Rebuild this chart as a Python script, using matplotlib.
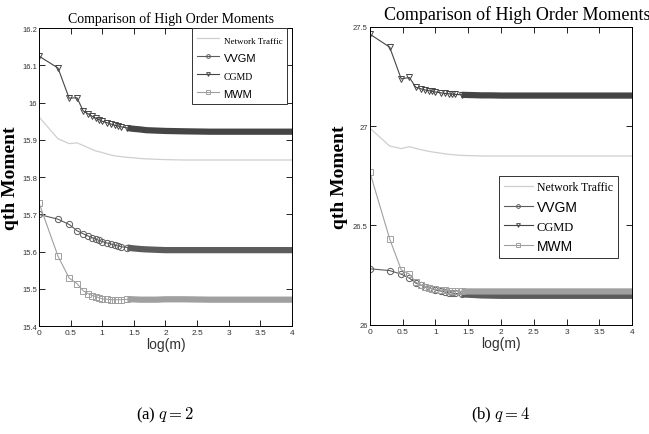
import numpy as np
import matplotlib
matplotlib.use('Agg')
import matplotlib.pyplot as plt

plt.rcParams['mathtext.fontset'] = 'cm'

# aggregation levels m (x axis is log10(m))
m_vals = [1, 2, 3, 4, 5, 6, 7, 8, 9, 10, 12, 14, 16, 18, 20, 25, 30, 40, 50, 70,
          100, 200, 500, 1000, 10000]

# q = 2
net_q2 = [15.962, 15.903, 15.890, 15.892, 15.885, 15.879, 15.874, 15.870, 15.868, 15.866,
          15.862, 15.859, 15.857, 15.856, 15.855, 15.853, 15.852, 15.850, 15.849, 15.848,
          15.847, 15.846, 15.846, 15.846, 15.846]
cgmd_q2 = [16.125, 16.093, 16.012, 16.013, 15.978, 15.970, 15.963, 15.958, 15.954, 15.950,
           15.946, 15.942, 15.939, 15.937, 15.935, 15.932, 15.930, 15.928, 15.926, 15.925,
           15.924, 15.923, 15.922, 15.922, 15.922]
vvgm_q2 = [15.700, 15.687, 15.673, 15.656, 15.648, 15.642, 15.637, 15.633, 15.630, 15.627,
           15.623, 15.620, 15.617, 15.615, 15.613, 15.611, 15.609, 15.607, 15.606, 15.605,
           15.604, 15.604, 15.604, 15.604, 15.604]
mwm_q2 = [15.731, 15.588, 15.529, 15.514, 15.495, 15.487, 15.482, 15.479, 15.476, 15.473,
          15.472, 15.471, 15.471, 15.471, 15.471, 15.472, 15.472, 15.471, 15.471, 15.471,
          15.472, 15.472, 15.471, 15.471, 15.471]

# q = 4
net_q4 = [26.990, 26.900, 26.887, 26.897, 26.888, 26.882, 26.877, 26.873, 26.870, 26.868,
          26.864, 26.861, 26.858, 26.857, 26.855, 26.853, 26.852, 26.851, 26.850, 26.850,
          26.850, 26.850, 26.850, 26.850, 26.850]
cgmd_q4 = [27.463, 27.398, 27.238, 27.245, 27.196, 27.188, 27.182, 27.178, 27.175, 27.172,
           27.168, 27.165, 27.163, 27.161, 27.160, 27.158, 27.157, 27.156, 27.155, 27.155,
           27.154, 27.154, 27.154, 27.154, 27.154]
vvgm_q4 = [26.282, 26.273, 26.255, 26.235, 26.210, 26.200, 26.190, 26.185, 26.180, 26.175,
           26.170, 26.165, 26.162, 26.160, 26.158, 26.155, 26.152, 26.150, 26.148, 26.147,
           26.146, 26.146, 26.146, 26.146, 26.146]
mwm_q4 = [26.767, 26.433, 26.277, 26.255, 26.215, 26.200, 26.192, 26.186, 26.181, 26.178,
          26.176, 26.174, 26.172, 26.171, 26.170, 26.169, 26.168, 26.168, 26.168, 26.168,
          26.168, 26.168, 26.168, 26.168, 26.168]

labels = ['Network Traffic', 'VVGM', 'CGMD', 'MWM']
colors = ['#cfcfcf', '#5c5c5c', '#454545', '#a0a0a0']
markers = [None, 'o', 'v', 's']

x = np.log10(m_vals)
SANS = ['Liberation Sans', 'DejaVu Sans']
SERIF = ['Liberation Serif', 'DejaVu Serif']

fig = plt.figure(figsize=(6.49, 4.35), dpi=100)


def panel(rect, series, ylim, yticks, ytl, tsize, title_x, ylab_x, leg_anchor,
          leg_fs, hlen, caption):
    ax = fig.add_axes(rect)
    tail = x >= 1.39
    head = np.where(x <= 1.4)[0].tolist()
    for y, lab, c, mk in zip(series, labels, colors, markers):
        y = np.asarray(y)
        if mk is None:
            ax.plot(x, y, color=c, lw=0.9, label=lab)
            continue
        ax.plot(x, y, color=c, lw=0.8, marker=mk, ms=4.5, mfc='none', mew=0.7,
                markevery=head, label=lab)
        # dense marker band at large m
        ax.plot(x[tail], y[tail], color=c, lw=4.5, solid_capstyle='butt')
    ax.set_xlim(0, 4)
    ax.set_ylim(*ylim)
    ax.set_xticks(np.arange(0, 4.01, 0.5))
    ax.set_xticklabels(['0', '0.5', '1', '1.5', '2', '2.5', '3', '3.5', '4'])
    ax.set_yticks(yticks)
    ax.set_yticklabels(ytl)
    ax.tick_params(direction='in', top=True, right=True, length=4, width=0.6,
                   labelsize=6, pad=2)
    ax.tick_params(axis='y', labelsize=5.5, pad=1.5)
    for t in ax.get_xticklabels() + ax.get_yticklabels():
        t.set_family(SANS)
        t.set_color('#333333')
    for s in ax.spines.values():
        s.set_linewidth(0.7)
    ax.text(title_x, 1.012, 'Comparison of High Order Moments', transform=ax.transAxes,
            ha='center', va='bottom', family=SERIF, fontsize=tsize)
    ax.set_ylabel('qth Moment', family=SERIF, fontweight='bold', fontsize=14)
    ax.yaxis.set_label_coords(ylab_x, 0.5)
    ax.set_xlabel('log(m)', family=SANS, fontsize=10, labelpad=1, color='#333333')
    leg = ax.legend(loc='upper right', bbox_to_anchor=leg_anchor, borderaxespad=0,
                    handlelength=hlen, handletextpad=0.3, labelspacing=0.45,
                    markerscale=0.6, fancybox=False, edgecolor='#333333',
                    framealpha=1, borderpad=0.35)
    leg.get_frame().set_linewidth(0.7)
    fams = [SERIF, SANS, SERIF, SANS]
    for t, fam, fs in zip(leg.get_texts(), fams, leg_fs):
        t.set_family(fam)
        t.set_fontsize(fs)
    cx = rect[0] + rect[2] / 2
    fig.text(cx, 0.035, caption, ha='center', va='baseline', family=SERIF, fontsize=12)
    return ax


panel([0.060, 0.248, 0.390, 0.685], [net_q2, vvgm_q2, cgmd_q2, mwm_q2],
      (15.4, 16.2), np.arange(15.4, 16.21, 0.1),
      ['15.4', '15.5', '15.6', '15.7', '15.8', '15.9', '16', '16.1', '16.2'],
      10, 0.52, -0.078, (0.98, 1.0), [6.5, 8, 7, 8], 1.6, '(a) $q = 2$')
panel([0.570, 0.251, 0.404, 0.685], [net_q4, vvgm_q4, cgmd_q4, mwm_q4],
      (26.0, 27.5), [26, 26.5, 27, 27.5], ['26', '26.5', '27', '27.5'],
      13, 0.56, -0.084, (0.945, 0.5), [8.5, 10, 9, 10], 2.1, '(b) $q = 4$')

fig.savefig('out.png', dpi=100)
